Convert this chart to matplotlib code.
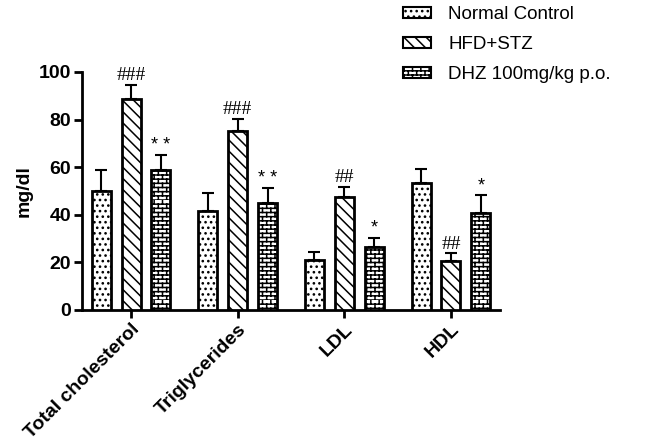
import warnings

import matplotlib
matplotlib.use('Agg')
import matplotlib.pyplot as plt
import matplotlib.patches as mpatches
from matplotlib import hatch as mhatch
from matplotlib.path import Path
import numpy as np

warnings.filterwarnings('ignore')

plt.rcParams.update({
    'font.family': ['Liberation Sans', 'DejaVu Sans'],
    'hatch.linewidth': 1.1,
    'hatch.color': 'black',
})


# brick hatch ('b'), matplotlib has none built in
class BrickHatch(mhatch.HatchPatternBase):
    def __init__(self, hatch, density):
        self.num_rows = hatch.count('b') * density
        self.num_cols = self.num_rows // 2
        self.num_lines = self.num_rows + self.num_rows * self.num_cols
        self.num_vertices = self.num_lines * 2

    def set_vertices_and_codes(self, vertices, codes):
        n, m = self.num_rows, self.num_cols
        k = 0
        for i in range(n):
            y0 = i / n
            vertices[k] = (0.0, y0)
            vertices[k + 1] = (1.0, y0)
            k += 2
            for j in range(m):
                xv = (j + 0.5 * (i % 2)) / m
                vertices[k] = (xv, y0)
                vertices[k + 1] = (xv, y0 + 1.0 / n)
                k += 2
        codes[0::2] = Path.MOVETO
        codes[1::2] = Path.LINETO


mhatch._hatch_types.append(BrickHatch)

# ── DATA ──────────────────────────────────────────────────────────────
categories = ['Total cholesterol', 'Triglycerides', 'LDL', 'HDL']
groups = ['Normal Control', 'HFD+STZ', 'DHZ 100mg/kg p.o.']

normal_mean = [50.0, 41.6, 21.0, 53.5]
normal_err = [8.8, 7.6, 3.4, 5.7]
hfd_mean = [88.7, 75.2, 47.6, 20.7]
hfd_err = [5.8, 5.1, 4.2, 3.1]
dhz_mean = [58.8, 45.0, 26.6, 40.9]
dhz_err = [6.3, 6.3, 3.8, 7.3]

hfd_marks = ['###', '###', '##', '##']
dhz_marks = ['**', '**', '*', '*']

# ── PLOT ──────────────────────────────────────────────────────────────
fig = plt.figure(figsize=(6.46, 4.44), dpi=100)
ax = fig.add_axes([0.127, 0.302, 0.647, 0.536])

x = np.arange(len(categories))
step = 0.28
width = 0.178
hatches = ['...', '\\\\\\', 'bbbb']
means = [normal_mean, hfd_mean, dhz_mean]
errs = [normal_err, hfd_err, dhz_err]

for gi in range(3):
    xs = x + (gi - 1) * step
    ax.bar(xs, means[gi], width, color='white', edgecolor='black',
           linewidth=2.0, hatch=hatches[gi], zorder=3)
    ax.errorbar(xs, means[gi], yerr=[np.zeros(len(xs)), errs[gi]],
                fmt='none', ecolor='black', elinewidth=1.5, capsize=4,
                capthick=1.5, zorder=2)

for xi, m, e, s in zip(x, hfd_mean, hfd_err, hfd_marks):
    ax.text(xi, m + e + 0.3, s, ha='center', va='bottom', fontsize=14,
            family='Liberation Serif')
for xi, m, e, s in zip(x + step, dhz_mean, dhz_err, dhz_marks):
    ax.text(xi, m + e + 0.3, ' '.join(s), ha='center', va='bottom',
            fontsize=13)

ax.set_xlim(-0.46, 3.46)
ax.set_ylim(0, 100)
ax.set_yticks(range(0, 101, 20))
ax.set_yticklabels([str(v) for v in range(0, 101, 20)],
                   fontsize=14, fontweight='bold')
ax.set_xticks(x)
ax.set_xticklabels(categories, rotation=45, ha='right',
                   rotation_mode='anchor', fontsize=14, fontweight='bold')
ax.set_ylabel('mg/dl', fontsize=14, fontweight='bold', labelpad=4)

for side in ['top', 'right']:
    ax.spines[side].set_visible(False)
for side in ['left', 'bottom']:
    ax.spines[side].set_linewidth(2.0)
ax.tick_params(width=2.0, length=6, pad=2)

handles = [mpatches.Patch(facecolor='white', edgecolor='black',
                          linewidth=1.5, hatch=h, label=g)
           for h, g in zip(hatches, groups)]
fig.legend(handles=handles, loc='upper left', bbox_to_anchor=(0.597, 1.024),
           frameon=False, fontsize=13.5, handlelength=1.5, handleheight=0.5,
           labelspacing=0.69, handletextpad=0.95)

fig.savefig('out.png', dpi=100, facecolor='white')
